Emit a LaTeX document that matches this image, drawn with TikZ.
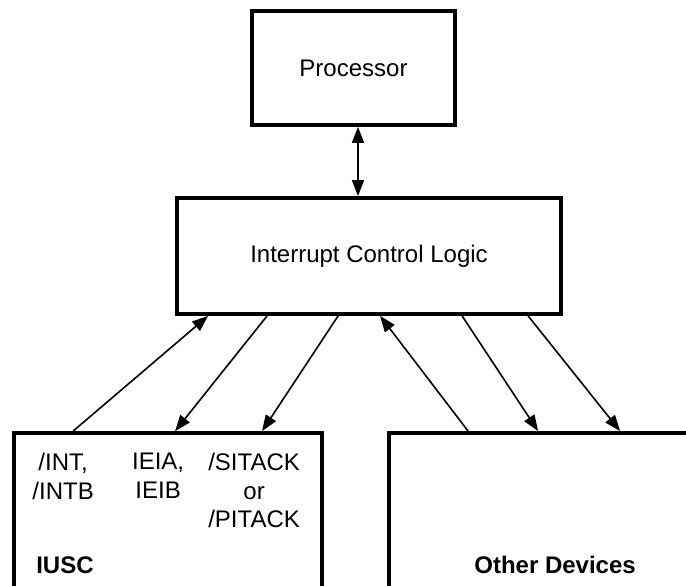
\documentclass[tikz,border=0pt]{standalone}
\usepackage{fontspec}
\setmainfont{Liberation Sans}
\usepackage{tikz}
\usetikzlibrary{arrows.meta,positioning,calc}

\begin{document}
\begin{tikzpicture}[x=1pt,y=-1pt,
    blk/.style={draw,line width=3.8pt,inner sep=0pt},
    sig/.style={line width=1.6pt,-{Triangle[length=16pt,width=12pt]}},
    lbl/.style={inner sep=0pt,align=center,anchor=north},
    every node/.style={font=\fontsize{24}{28.5}\selectfont}]
                    \useasboundingbox (0,0) rectangle (686,586);
                    \clip (0,0) rectangle (686,586);
                    \node[blk,minimum width=203pt,minimum height=114pt] (proc) at (353.5,68) {Processor};
                    \node[blk,minimum width=384pt,minimum height=116pt] (icl) at (369,256) {Interrupt Control Logic};
                    \node[blk,minimum width=308pt,minimum height=200pt] (iusc) at (168,533) {};
                    \node[blk,minimum width=400pt,minimum height=200pt] (other) at (589,533) {};
                    \node[lbl] (int) at ([xshift=51pt,yshift=-22pt]iusc.north west) {/INT,\\/INTB};
                    \node[lbl] (iei) at ([xshift=146pt,yshift=-22pt]iusc.north west) {IEIA,\\IEIB};
                    \node[lbl] (ack) at ([xshift=242pt,yshift=-22pt]iusc.north west) {/SITACK\\or\\/PITACK};
                    \node[inner sep=0pt,anchor=base west] (iuscname) at ([xshift=24pt,yshift=-142pt]iusc.north west) {\bfseries IUSC};
                    \node[inner sep=0pt,anchor=base] (othername) at ([xshift=168pt,yshift=-142pt]other.north west) {\bfseries Other Devices};
                    \draw[sig,{Triangle[length=16pt,width=12pt]}-{Triangle[length=16pt,width=12pt]}] ([xshift=4.5pt]proc.south) -- ([xshift=4.5pt]proc.south |- icl.north);
                    \draw[sig] ([xshift=61pt]iusc.north west) -- ([xshift=33pt]icl.south west);
                    \draw[sig] ([xshift=92pt]icl.south west) -- ([xshift=163pt]iusc.north west);
                    \draw[sig] ([xshift=163pt]icl.south west) -- ([xshift=250pt]iusc.north west);
                    \draw[sig] ([xshift=81pt]other.north west) -- ([xshift=205pt]icl.south west);
                    \draw[sig] ([xshift=287pt]icl.south west) -- ([xshift=151pt]other.north west);
                    \draw[sig] ([xshift=353pt]icl.south west) -- ([xshift=233pt]other.north west);
                \end{tikzpicture}
\end{document}
